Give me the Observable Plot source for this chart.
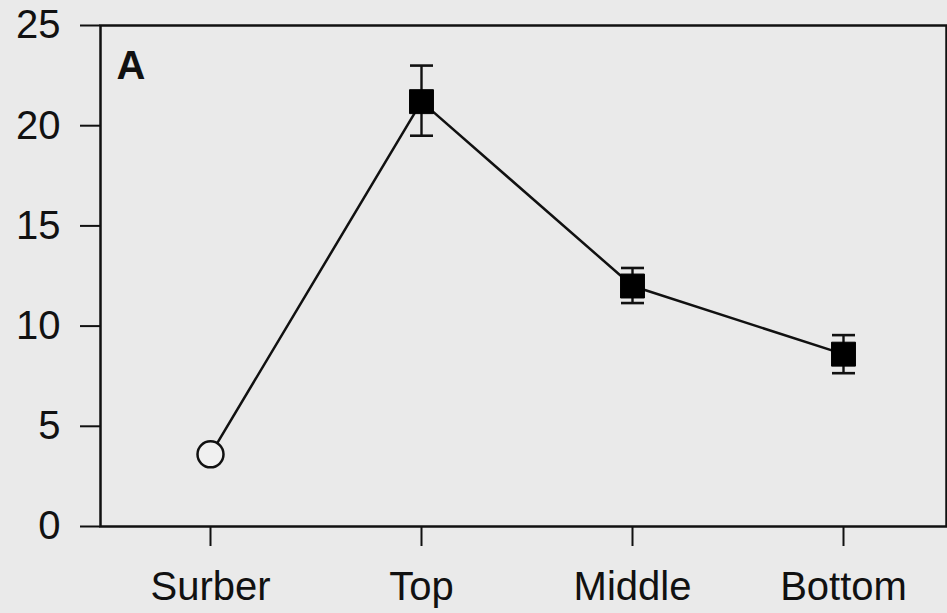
<!DOCTYPE html>
<html><head><meta charset="utf-8">
<script src="https://cdn.jsdelivr.net/npm/d3@7"></script>
<script src="https://cdn.jsdelivr.net/npm/@observablehq/plot@0.6"></script>
<style>
html,body{margin:0;padding:0;background:#eaeaea;}
#chart{width:947px;height:613px;overflow:hidden;}
</style>
</head><body><div id="chart"></div>
<script>
const sites = ["Surber", "Top", "Middle", "Bottom"];
const means = [3.6, 21.2, 12.0, 8.6];
const lower = [null, 19.5, 11.15, 7.65];
const upper = [null, 23.0, 12.9, 9.55];
const kind = ["open", "filled", "filled", "filled"];
const yTicks = [0, 5, 10, 15, 20, 25];
const panelLabel = "A";

const data = sites.map((s, i) => ({site: s, mean: means[i], lo: lower[i], hi: upper[i], kind: kind[i]}));
const withErr = data.filter(d => d.lo != null);

const capSymbol = {
  draw(context, size) {
    const w = Math.sqrt(size);
    context.moveTo(-w, 0);
    context.lineTo(w, 0);
  }
};

const ff = '"Liberation Sans", Arial, Helvetica, sans-serif';

const chart = Plot.plot({
  width: 947,
  height: 613,
  marginTop: 25,
  marginBottom: 87,
  marginLeft: 100,
  marginRight: 1,
  style: {background: "#eaeaea", fontFamily: ff, fontSize: "40px", color: "#111"},
  x: {type: "point", domain: sites, padding: 0.5, insetLeft: 3, insetRight: -3.5, label: null},
  y: {domain: [0, 25], ticks: yTicks, label: null},
  marks: [
    Plot.frame({stroke: "#111", strokeWidth: 2.5}),
    Plot.axisY({ticks: yTicks, tickSize: 20, tickPadding: 20, fontSize: 40, strokeWidth: 2, label: null}),
    Plot.axisX({tickSize: 20, tickPadding: 25, fontSize: 40, strokeWidth: 2, label: null}),
    Plot.ruleX(withErr, {x: "site", y1: "lo", y2: "hi", stroke: "#111", strokeWidth: 2.4}),
    Plot.dot(withErr, {x: "site", y: "lo", symbol: capSymbol, r: 6.5, stroke: "#111", strokeWidth: 2.6, fill: "none"}),
    Plot.dot(withErr, {x: "site", y: "hi", symbol: capSymbol, r: 6.5, stroke: "#111", strokeWidth: 2.6, fill: "none"}),
    Plot.line(data, {x: "site", y: "mean", stroke: "#111", strokeWidth: 2.5}),
    Plot.dot(data.filter(d => d.kind === "filled"), {x: "site", y: "mean", symbol: "square", r: 13.5, fill: "#000", stroke: "#000", strokeWidth: 1}),
    Plot.dot(data.filter(d => d.kind === "open"), {x: "site", y: "mean", symbol: "circle", r: 13, fill: "#f0f0f0", stroke: "#111", strokeWidth: 2.5}),
    Plot.text([panelLabel], {frameAnchor: "top-left", text: d => d, dx: 16, dy: 41, lineAnchor: "middle", textAnchor: "start", fontSize: 40, fontWeight: "bold", fill: "#111"})
  ]
});
document.getElementById("chart").append(chart);
</script>
</body></html>
